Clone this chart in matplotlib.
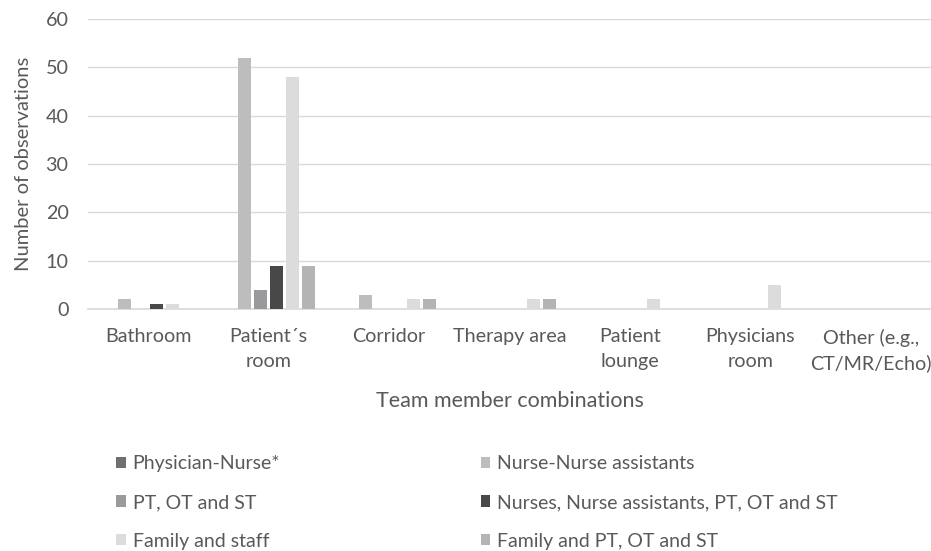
import matplotlib
matplotlib.use("Agg")
from matplotlib import pyplot as plt
import numpy as np

plt.rcParams['font.family'] = ['Lato', 'DejaVu Sans']

# locations on the x axis
locations = ["Bathroom", "Patient\u00b4s\nroom", "Corridor", "Therapy area",
             "Patient\nlounge", "Physicians\nroom", "Other (e.g.,\nCT/MR/Echo)"]

# team member combinations (series)
series_names = ["Physician-Nurse*", "Nurse-Nurse assistants", "PT, OT and ST",
                "Nurses, Nurse assistants, PT, OT and ST", "Family and staff",
                "Family and PT, OT and ST"]
physician_nurse = [0, 0, 0, 0, 0, 0, 0]
nurse_nurse_assist = [2, 52, 3, 0, 0, 0, 0]
pt_ot_st = [0, 4, 0, 0, 0, 0, 0]
nurses_all = [1, 9, 0, 0, 0, 0, 0]
family_staff = [1, 48, 2, 2, 2, 5, 0]
family_pt = [0, 9, 2, 2, 0, 0, 0]
values = [physician_nurse, nurse_nurse_assist, pt_ot_st, nurses_all, family_staff, family_pt]
colors = ["#707070", "#bdbdbd", "#989a9b", "#484848", "#dcdcdc", "#b4b4b4"]

txt_col = "#595959"

fig = plt.figure(figsize=(9.31, 5.51), dpi=100)
ax = fig.add_axes([0.0945, 0.4392, 0.9055, 0.5263])

x = np.arange(len(locations))
step = 0.133
width = 0.108
handles = []
for i, (name, vals, c) in enumerate(zip(series_names, values, colors)):
    b = ax.bar(x + (i - 2.5) * step, vals, width, color=c, label=name, zorder=3)
    handles.append(b)

ax.set_xlim(-0.5, len(locations) - 0.5)
ax.set_ylim(0, 60)
ax.set_yticks(range(0, 61, 10))
ax.set_xticks(x)
ax.set_xticklabels(locations, fontsize=14.2, color=txt_col, linespacing=1.55)
ax.tick_params(axis='y', labelsize=14.2, colors=txt_col, length=0, pad=14)
ax.tick_params(axis='x', length=0, pad=14)
ax.grid(axis='y', color="#d9d9d9", linewidth=1.0, zorder=0)
for s in ['top', 'right', 'left']:
    ax.spines[s].set_visible(False)
ax.spines['bottom'].set_color("#d9d9d9")
ax.spines['bottom'].set_linewidth(1.2)

ax.set_ylabel("Number of observations", fontsize=14.5, color=txt_col, labelpad=10)
ax.set_xlabel("Team member combinations", fontsize=15.5, color=txt_col, labelpad=13)

# legend fills column-wise, reorder for row-wise reading
order = [0, 2, 4, 1, 3, 5]
leg = fig.legend([handles[k] for k in order], [series_names[k] for k in order],
                 ncol=2, loc='upper left', bbox_to_anchor=(0.1246, 0.174),
                 frameon=False, fontsize=14, handlelength=0.5, handleheight=0.5,
                 handletextpad=0.36, labelspacing=1.12, columnspacing=10.3,
                 borderpad=0, borderaxespad=0)
for t in leg.get_texts():
    t.set_color(txt_col)

fig.savefig("out.png", dpi=100)
